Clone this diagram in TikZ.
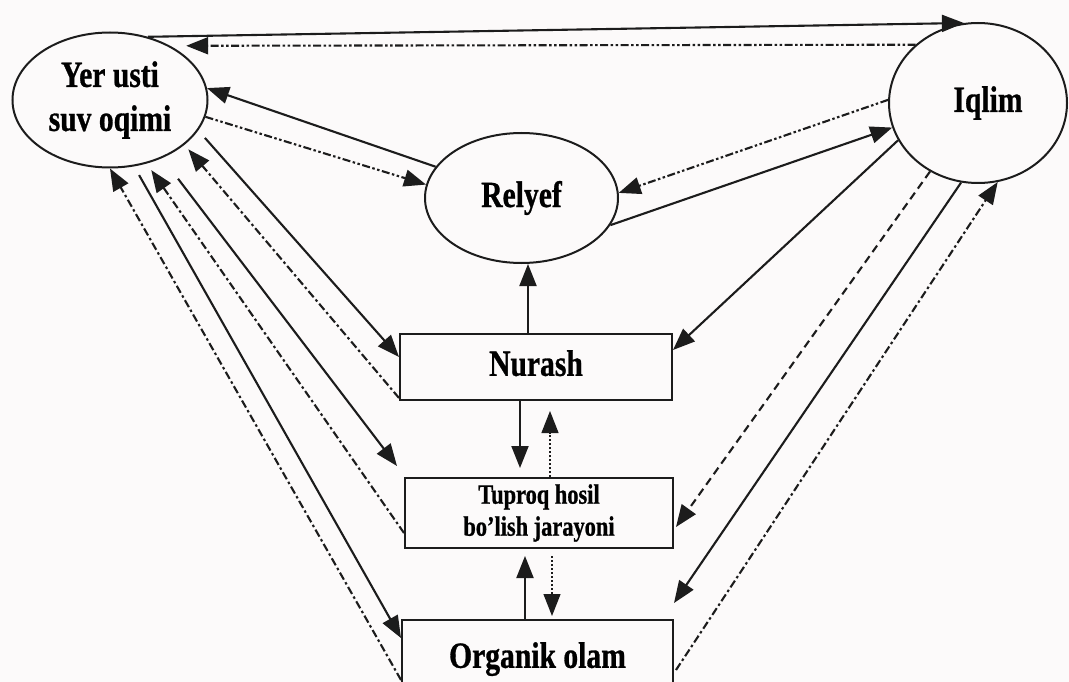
\documentclass[tikz,border=0pt]{standalone}
\usepackage{fontspec}
\newfontfamily\lab{Liberation Serif}[FakeStretch=0.8,FakeBold=0.8]
\usetikzlibrary{arrows.meta,shapes.geometric,calc}
\definecolor{ink}{RGB}{28,28,28}
\definecolor{paper}{RGB}{252,250,250}
\begin{document}
\begin{tikzpicture}[x=1pt,y=-1pt,
  ov/.style={ellipse, draw=ink, line width=2pt, inner sep=0pt, align=center,
    font=\lab\bfseries\fontsize{37}{44}\selectfont},
  bx/.style={rectangle, draw=ink, line width=2pt, inner sep=0pt, align=center,
    font=\lab\bfseries\fontsize{37}{44}\selectfont},
  arr/.style={draw=ink, line width=2.1pt, -{Triangle[length=22pt,width=17pt]}},
  dd/.style={dash pattern=on 8pt off 3pt on 2.5pt off 3pt},
  ddd/.style={dash pattern=on 8pt off 2.5pt on 2.5pt off 2.5pt on 2.5pt off 2.5pt},
  dsh/.style={dash pattern=on 8pt off 5pt},
  dt/.style={line width=1.2pt, dash pattern=on 2pt off 2pt}]
\fill[paper] (0,0) rectangle (1069,682);
\useasboundingbox (0,0) rectangle (1069,682);
\clip (0,0) rectangle (1069,682);

\node[ov, minimum width=195pt, minimum height=135pt] (yer) at (110,100) {Yer usti\\suv oqimi};
\node[ov, minimum width=178pt, minimum height=160pt] (iq) at (978,103) {\hspace*{20pt}Iqlim};
\node[ov, minimum width=193pt, minimum height=130pt] (rel) at (521.5,198) {Relyef};
\node[bx, minimum width=272pt, minimum height=66pt] (nur) at (536,367) {\raisebox{8pt}{Nurash}};
\node[bx, minimum width=268pt, minimum height=70pt,
  font=\lab\bfseries\fontsize{28}{32}\selectfont] (tup) at (539,513) {Tuproq hosil\\bo’lish jarayoni};
\node[bx, minimum width=271pt, minimum height=80pt] (org) at (537.5,660) {\raisebox{10pt}{Organik olam}};

% top
\draw[arr] (yer.59) -- (iq.100);
\draw[arr,ddd] (iq.137) -- ([xshift=16pt]yer.42);
% Yer - Relyef
\draw[arr] (rel.160.7) -- (yer.7);
\draw[arr,ddd] (yer.-10) -- (rel.172.5);
% Relyef - Iqlim
\draw[arr,ddd] (iq.178) -- (rel.3);
\draw[arr] (rel.-17) -- (iq.196.7);
% Nurash -> Relyef
\draw[arr] ([xshift=-8pt]nur.north) -- ([xshift=-8pt]nur.north |- rel.south);
% Iqlim - boxes
\draw[arr] (iq.205) -- ($(nur.east)+(0,-17)$);
\draw[arr,dsh] (iq.235.6) -- ($(tup.east)+(2,14)$);
\draw[arr] (iq.258) -- ($(org.north east)+(0,-16)$);
\draw[arr,dd] ($(org.east)+(2,10)$) -- (iq.-76.6);
% Yer - boxes
\draw[arr,dd] ($(org.west)+(0,20)$) -- (yer.-90);
\draw[arr,shorten <=10pt] (yer.-70.7) -- ($(org.west)+(0,-22)$);
\draw[arr,dd,shorten >=8pt] ($(tup.west)+(0,20)$) -- (yer.-60);
\draw[arr,shorten <=26pt] (yer.-48.5) -- ($(tup.north west)+(-7,-11)$);
\draw[arr,dd,shorten >=6pt] ($(nur.south west)+(0,-3)$) -- (yer.-31);
\draw[arr,shorten <=10pt] (yer.-19.8) -- ($(nur.west)+(0,-10)$);
% vertical between boxes
\draw[arr,shorten >=9pt] ([xshift=-16pt]nur.south) -- ([xshift=-16pt]nur.south |- tup.north);
\draw[arr,dt,shorten >=10pt] ([xshift=11pt]tup.north) -- ([xshift=11pt]tup.north |- nur.south);
\draw[arr,shorten >=7pt] ([xshift=-14pt]tup.south |- org.north) -- ([xshift=-14pt]tup.south);
\draw[arr,dt,shorten <=7pt,shorten >=3pt] ([xshift=13pt]tup.south) -- ([xshift=13pt]tup.south |- org.north);
\end{tikzpicture}
\end{document}
